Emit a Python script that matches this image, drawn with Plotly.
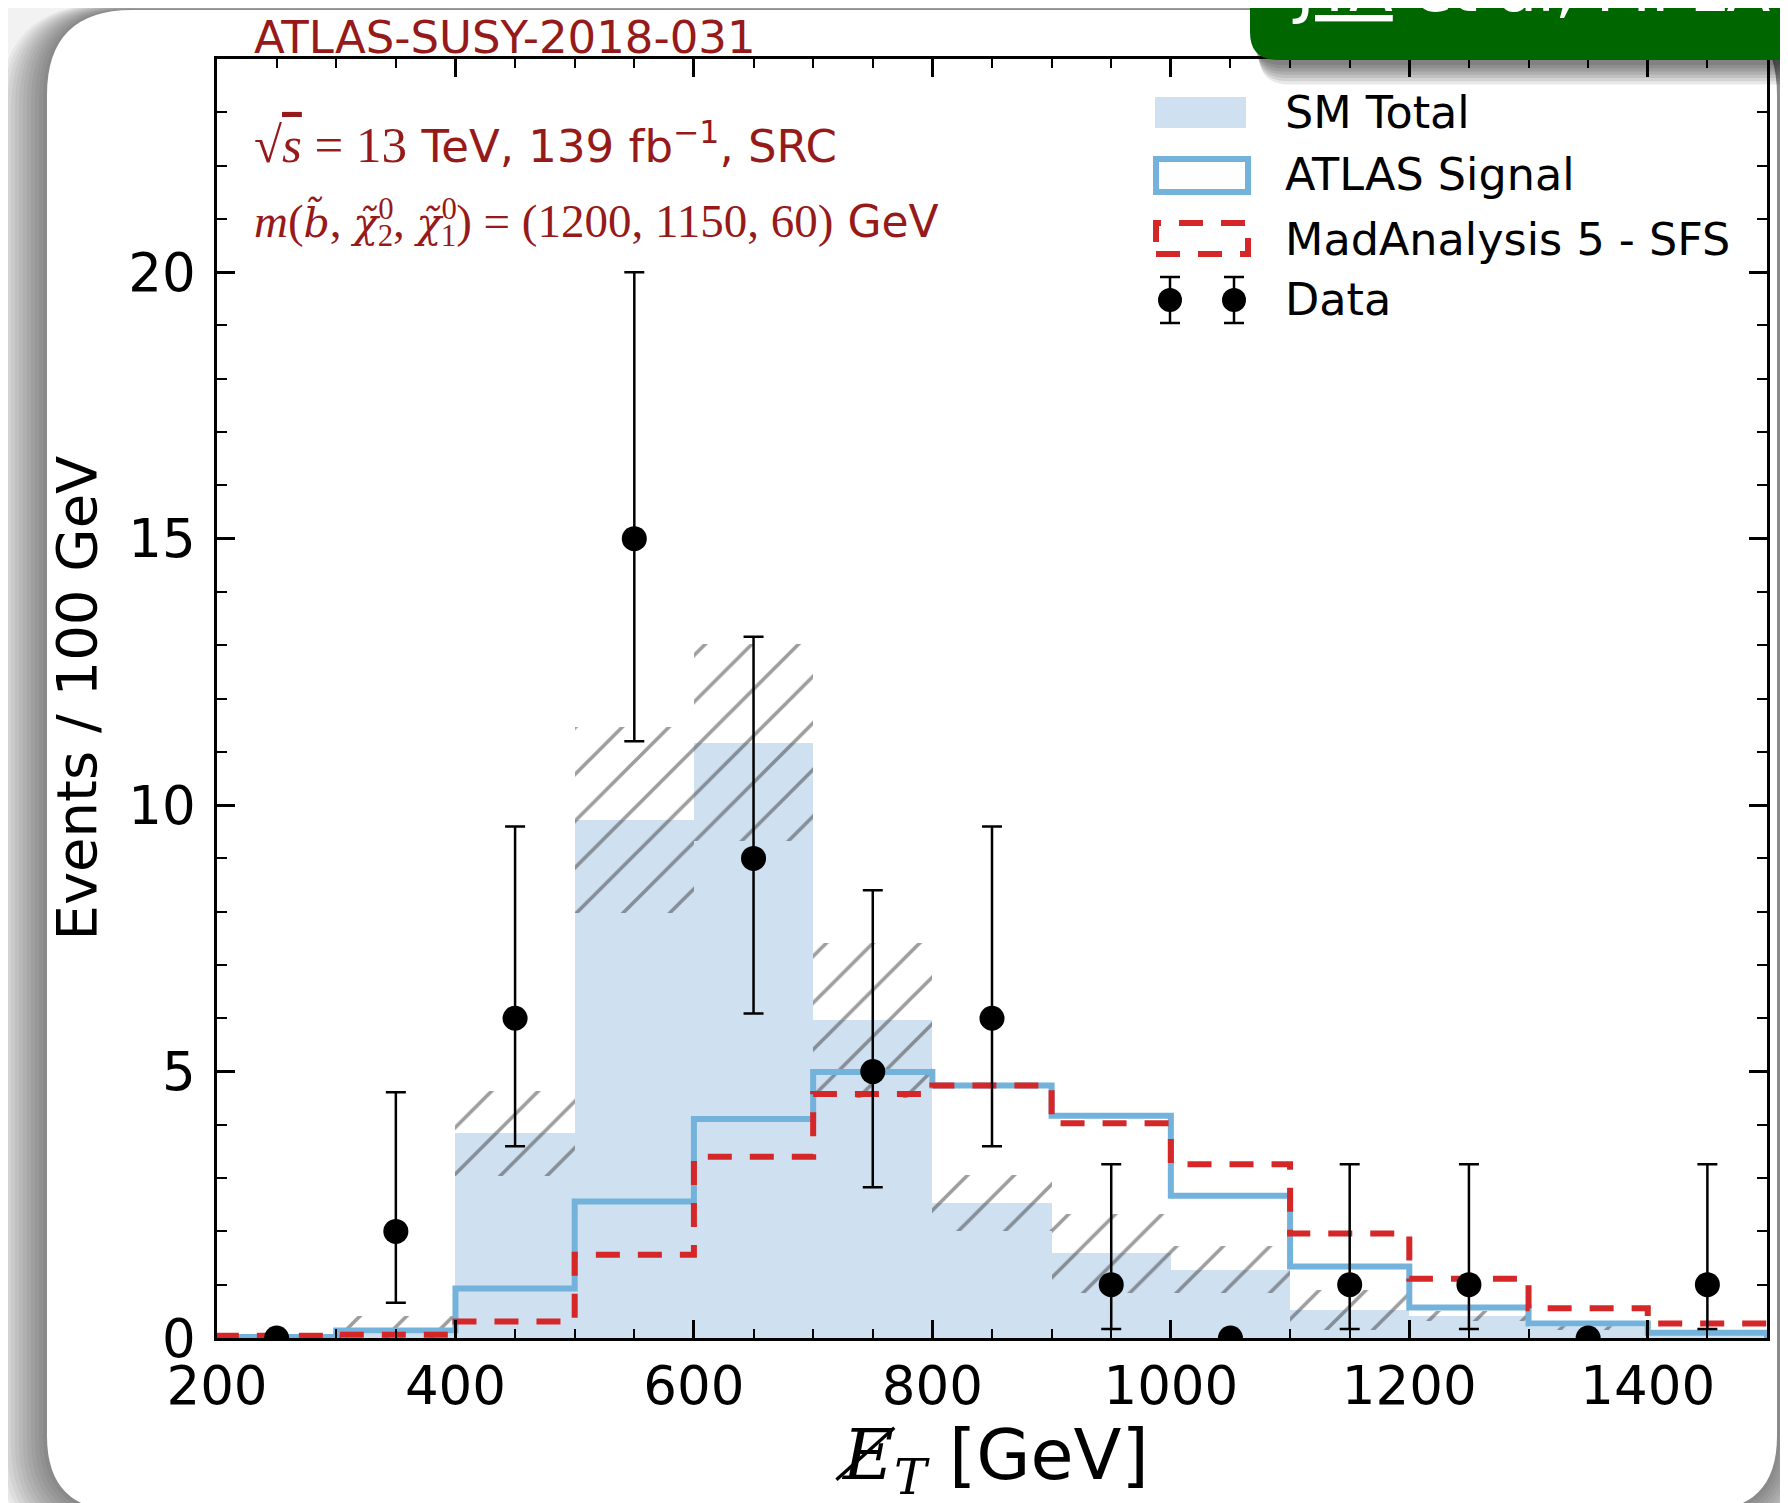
import plotly.graph_objects as go

# ---------------- data ----------------
bin_lo = [200, 300, 400, 500, 600, 700, 800, 900, 1000, 1100, 1200, 1300, 1400]
bin_hi = [300, 400, 500, 600, 700, 800, 900, 1000, 1100, 1200, 1300, 1400, 1500]
bin_center = [250, 350, 450, 550, 650, 750, 850, 950, 1050, 1150, 1250, 1350, 1450]
sm_total = [0.0, 0.08, 3.84, 9.72, 11.17, 5.96, 2.53, 1.59, 1.28, 0.53, 0.41, 0.2, 0.1]
sm_unc = [0.0, 0.33, 0.80, 1.75, 1.85, 1.45, 0.53, 0.74, 0.44, 0.38, 0.10, 0.05, 0.03]
atlas_signal = [0.02, 0.14, 0.93, 2.56, 4.11, 4.99, 4.74, 4.17, 2.67, 1.34, 0.57, 0.27, 0.10]
ma5_sfs = [0.04, 0.06, 0.31, 1.56, 3.40, 4.58, 4.74, 4.03, 3.26, 1.96, 1.11, 0.56, 0.27]
data_counts = [0, 2, 6, 15, 9, 5, 6, 1, 0, 1, 1, 0, 1]
data_err_up = [0, 2.61, 3.6, 5.0, 4.16, 3.4, 3.6, 2.26, 0, 2.26, 2.26, 0, 2.26]
data_err_dn = [0, 1.34, 2.4, 3.8, 2.91, 2.17, 2.4, 0.83, 0, 0.83, 0.83, 0, 0.83]
x_ticks = [200, 400, 600, 800, 1000, 1200, 1400]
y_ticks = [0, 5, 10, 15, 20]
legend_labels = ["SM Total", "ATLAS Signal", "MadAnalysis 5 - SFS", "Data"]

# ---------------- layout geometry (screen pixels) ----------------
FW, FH = 1788, 1503
OFF = 8  # page body margin: the figure starts 8 px into the window
SL, SR, ST, SB = 217, 1767, 59, 1338
ML, MT = SL - OFF, ST - OFF
MR, MB = FW - (SR - OFF), FH - (SB - OFF)
W, H = SR - SL, SB - ST


def X(p):
    return (p - SL) / W


def Y(p):
    return (SB - p) / H


def rounded_path(left, top, right, bottom, rtl, rtr, rbr, rbl):
    pts = []
    pts.append("M%.5f,%.5f" % (X(left + rtl), Y(top)))
    pts.append("L%.5f,%.5f" % (X(right - rtr), Y(top)))
    pts.append("Q%.5f,%.5f %.5f,%.5f" % (X(right), Y(top), X(right), Y(top + rtr)))
    pts.append("L%.5f,%.5f" % (X(right), Y(bottom - rbr)))
    pts.append("Q%.5f,%.5f %.5f,%.5f" % (X(right), Y(bottom), X(right - rbr), Y(bottom)))
    pts.append("L%.5f,%.5f" % (X(left + rbl), Y(bottom)))
    pts.append("Q%.5f,%.5f %.5f,%.5f" % (X(left), Y(bottom), X(left), Y(bottom - rbl)))
    pts.append("L%.5f,%.5f" % (X(left), Y(top + rtl)))
    pts.append("Q%.5f,%.5f %.5f,%.5f" % (X(left), Y(top), X(left + rtl), Y(top)))
    pts.append("Z")
    return " ".join(pts)


SANS = "DejaVu Sans"
DARKRED = "#961a1a"
SM_COLOR = "#cfe0f1"
SIG_COLOR = "#73b2db"
MA5_COLOR = "#d62728"

fig = go.Figure()

# SM total filled histogram
fig.add_trace(go.Bar(
    x=bin_center, y=sm_total, width=100,
    marker=dict(color=SM_COLOR, line=dict(width=0)),
    showlegend=False, hoverinfo="skip",
))

# SM uncertainty hatch
fig.add_trace(go.Bar(
    x=bin_center,
    y=[2 * u for u in sm_unc],
    base=[s - u for s, u in zip(sm_total, sm_unc)],
    width=100,
    marker=dict(
        color="rgba(0,0,0,0)",
        line=dict(width=0),
        pattern=dict(shape="/", fgcolor="#3c3c3c", bgcolor="rgba(0,0,0,0)",
                     size=33, solidity=0.11, fillmode="overlay"),
    ),
    showlegend=False, hoverinfo="skip",
))

# step outlines
step_x = [bin_lo[0]] + bin_lo + [bin_hi[-1]]
fig.add_trace(go.Scatter(
    x=step_x, y=[0] + atlas_signal + [0], mode="lines",
    line=dict(color=SIG_COLOR, width=6, shape="hv"),
    showlegend=False, hoverinfo="skip",
))
fig.add_trace(go.Scatter(
    x=step_x, y=[0] + ma5_sfs + [0], mode="lines",
    line=dict(color=MA5_COLOR, width=6, shape="hv", dash="24px,18px"),
    showlegend=False, hoverinfo="skip",
))

# data
fig.add_trace(go.Scatter(
    x=bin_center, y=data_counts, mode="markers",
    marker=dict(color="black", size=25, line=dict(width=0)),
    error_y=dict(type="data", symmetric=False, array=data_err_up,
                 arrayminus=data_err_dn, color="black", thickness=2.5, width=10),
    showlegend=False, hoverinfo="skip",
))

shapes = []
# page background + shadow + card
shapes.append(dict(type="rect", xref="paper", yref="paper", layer="below",
                   x0=X(0), x1=X(1900), y0=Y(1600), y1=Y(-50),
                   fillcolor="#f2f2f2", line=dict(width=0)))
for i in range(12, 0, -1):
    shapes.append(dict(
        type="path", xref="paper", yref="paper", layer="below",
        path=rounded_path(47 - 4 * i, 10 - 0.5 * i, 1777 + 3 * i, 1511 + 3 * i,
                          85 + 2 * i, 85 + 2 * i, 75 + 2 * i, 75 + 2 * i),
        fillcolor="rgba(0,0,0,0.045)", line=dict(width=0),
    ))
shapes.append(dict(
    type="path", xref="paper", yref="paper", layer="below",
    path=rounded_path(47, 10, 1777, 1511, 85, 85, 75, 75),
    fillcolor="white", line=dict(width=0),
))

# legend glyphs
shapes.append(dict(type="rect", xref="paper", yref="paper", layer="above",
                   x0=X(1155), x1=X(1246), y0=Y(128), y1=Y(97),
                   fillcolor=SM_COLOR, line=dict(width=0)))
shapes.append(dict(type="rect", xref="paper", yref="paper", layer="above",
                   x0=X(1156), x1=X(1248), y0=Y(192), y1=Y(159),
                   fillcolor="rgba(0,0,0,0)", line=dict(color=SIG_COLOR, width=6)))
shapes.append(dict(type="rect", xref="paper", yref="paper", layer="above",
                   x0=X(1156), x1=X(1248), y0=Y(254), y1=Y(223),
                   fillcolor="rgba(0,0,0,0)",
                   line=dict(color=MA5_COLOR, width=6, dash="24px,18px")))
for cx in (1170, 1234):
    shapes.append(dict(type="line", xref="paper", yref="paper", layer="above",
                       x0=X(cx), x1=X(cx), y0=Y(277), y1=Y(323),
                       line=dict(color="black", width=2.5)))
    for cy in (277, 323):
        shapes.append(dict(type="line", xref="paper", yref="paper", layer="above",
                           x0=X(cx - 10), x1=X(cx + 10), y0=Y(cy), y1=Y(cy),
                           line=dict(color="black", width=2.5)))
    shapes.append(dict(type="circle", xref="paper", yref="paper", layer="above",
                       x0=X(cx - 12), x1=X(cx + 12), y0=Y(300 + 12), y1=Y(300 - 12),
                       fillcolor="black", line=dict(width=0)))

# green banner (with soft shadow) at top right
for i in range(7, 0, -1):
    shapes.append(dict(
        type="path", xref="paper", yref="paper", layer="above",
        path=rounded_path(1252 + i, -80, 1900, 62 + 3.2 * i, 10, 10, 10, 30),
        fillcolor="rgba(0,0,0,0.09)", line=dict(width=0),
    ))
shapes.append(dict(
    type="path", xref="paper", yref="paper", layer="above",
    path=rounded_path(1250, -80, 1900, 60, 10, 10, 10, 28),
    fillcolor="#006600", line=dict(width=0),
))

annotations = []


def add_text(text, x, y, size, color="black", xanchor="left", yanchor="middle",
             family=SANS, angle=0):
    annotations.append(dict(
        text=text, x=X(x), y=Y(y), xref="paper", yref="paper",
        xanchor=xanchor, yanchor=yanchor, showarrow=False, textangle=angle,
        font=dict(family=family, size=size, color=color),
    ))


SER2 = 'font-family:Liberation Serif;font-size:51px'
SER = 'font-family:Liberation Serif;font-size:47px'
SER_IT = 'font-family:DejaVu Serif;font-style:italic;font-size:41px'
SUP0 = '<sup><span style="font-family:Liberation Serif;letter-spacing:-16px">0</span></sup>'
add_text("ATLAS-SUSY-2018-031", 252, 37, 45, DARKRED)
add_text('<span style="%s">√<span style="text-decoration:overline"><i>s</i></span> = 13</span>'
         ' TeV, 139 fb<sup>−1</sup>, SRC' % SER2,
         252, 143, 45, DARKRED)
add_text('<span style="%s"><i>m</i>(</span><span style="%s">b̃</span><span style="%s">, </span>'
         '<span style="%s">χ̃</span>%s<sub><span style="font-family:Liberation Serif">2</span></sub>'
         '<span style="%s">, </span>'
         '<span style="%s">χ̃</span>%s<sub><span style="font-family:Liberation Serif">1</span></sub>'
         '<span style="%s">) = (1200, 1150, 60)</span> GeV'
         % (SER, SER_IT, SER, SER_IT, SUP0, SER, SER_IT, SUP0, SER),
         252, 224, 44, DARKRED)

for lbl, cy in zip(legend_labels, (112, 174, 239, 299)):
    add_text(lbl, 1283, cy, 44.5, "black")

add_text("Events / 100 GeV", 76, (ST + SB) / 2, 56, "black", xanchor="center", angle=-90)
add_text('<span style="font-family:DejaVu Serif;font-style:italic">E̸</span>'
         '<sub><span style="font-family:DejaVu Serif;font-style:italic">T</span></sub> [GeV]',
         (SL + SR) / 2, 1460, 70, "black", xanchor="center")

add_text("<u>JYA</u> et al, MPLA 2021", 1290, 28, 64, "white", yanchor="bottom")

fig.update_layout(
    width=FW, height=FH,
    margin=dict(l=ML, r=MR, t=MT, b=MB, pad=0),
    paper_bgcolor="#f2f2f2", plot_bgcolor="white",
    barmode="overlay", bargap=0, showlegend=False,
    shapes=shapes, annotations=annotations,
    font=dict(family=SANS, color="black"),
)
fig.update_xaxes(
    range=[200, 1500], tickvals=x_ticks, ticks="inside", ticklen=18, tickwidth=2.5,
    tickcolor="black", showline=True, linecolor="black", linewidth=2.5, mirror="ticks",
    showgrid=False, zeroline=False, tickfont=dict(family=SANS, size=53, color="black"),
    ticklabelstandoff=0,
    minor=dict(dtick=50, tick0=200, ticks="inside", ticklen=9, tickwidth=2, tickcolor="black"),
)
fig.update_yaxes(
    range=[0, 24], tickvals=y_ticks, ticks="inside", ticklen=18, tickwidth=2.5,
    tickcolor="black", showline=True, linecolor="black", linewidth=2.5, mirror="ticks",
    showgrid=False, zeroline=False, tickfont=dict(family=SANS, size=53, color="black"),
    ticklabelstandoff=8,
    minor=dict(dtick=1, tick0=0, ticks="inside", ticklen=10, tickwidth=2, tickcolor="black"),
)

fig.write_html("out.html")
